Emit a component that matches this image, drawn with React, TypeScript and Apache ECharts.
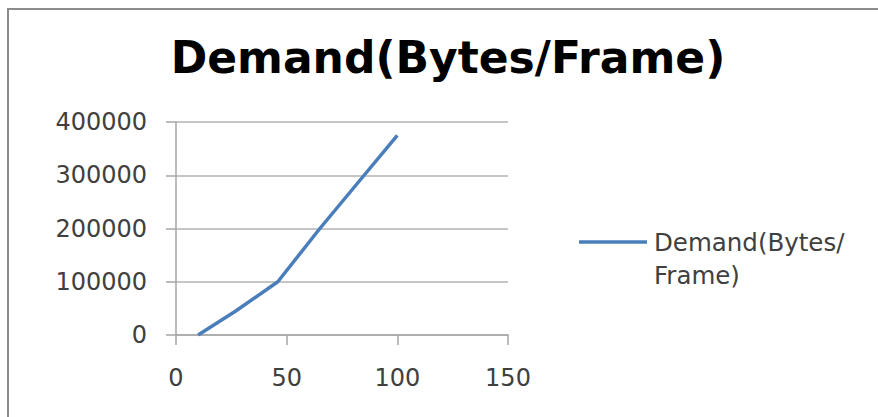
import React, { useEffect, useRef } from "react";
import * as echarts from "echarts";

const chartTitle = "Demand(Bytes/Frame)";
const seriesName = "Demand(Bytes/Frame)";
const legendLines = ["Demand(Bytes/", "Frame)"];
const xValues = [10, 27, 46, 65, 85, 100];
const yValues = [0, 45000, 100000, 200000, 300000, 375000];
const xTicks = { min: 0, max: 150, interval: 50 };
const yTicks = { min: 0, max: 400000, interval: 100000 };

export default function App() {
  const ref = useRef<HTMLDivElement>(null);
  useEffect(() => {
    if (!ref.current) return;
    const chart = echarts.init(ref.current, undefined, { renderer: "svg" });
    const font = "DejaVu Sans";
    chart.setOption({
      animation: false,
      backgroundColor: "#ffffff",
      grid: { left: 176, right: 370, top: 122, bottom: 82, containLabel: false },
      xAxis: {
        type: "value",
        min: xTicks.min,
        max: xTicks.max,
        interval: xTicks.interval,
        axisLine: { show: true, onZero: false, lineStyle: { color: "#a6a6a6", width: 1.5 } },
        axisTick: { show: true, length: 10, inside: false, lineStyle: { color: "#a6a6a6", width: 1.5 } },
        splitLine: { show: false },
        axisLabel: { margin: 31, color: "#404040", fontFamily: font, fontSize: 24, formatter: (v: number) => String(v) },
      },
      yAxis: {
        type: "value",
        min: yTicks.min,
        max: yTicks.max,
        interval: yTicks.interval,
        axisLine: { show: true, lineStyle: { color: "#a6a6a6", width: 1.5 } },
        axisTick: { show: true, length: 10, inside: false, lineStyle: { color: "#a6a6a6", width: 1.5 } },
        splitLine: { show: true, lineStyle: { color: "#b3b3b3", width: 1.5 } },
        axisLabel: { margin: 29, color: "#404040", fontFamily: font, fontSize: 24, formatter: (v: number) => String(v) },
      },
      series: [
        {
          name: seriesName,
          type: "line",
          data: xValues.map((x, i) => [x, yValues[i]]),
          showSymbol: false,
          smooth: false,
          lineStyle: { color: "#4a7ebb", width: 3.5 },
          itemStyle: { color: "#4a7ebb" },
        },
      ],
      graphic: [
        {
          type: "rect",
          shape: { x: 8, y: 9, width: 900, height: 500 },
          style: { fill: "none", stroke: "#8c8c8c", lineWidth: 2 },
          silent: true,
        },
        {
          type: "text",
          x: 448,
          y: 57,
          style: {
            text: chartTitle,
            fontFamily: font,
            fontWeight: "bold",
            fontSize: 44,
            fill: "#000000",
            textAlign: "center",
            textVerticalAlign: "middle",
          },
        },
        {
          type: "line",
          shape: { x1: 579, y1: 242, x2: 647, y2: 242 },
          style: { stroke: "#4a7ebb", lineWidth: 3.5 },
        },
        {
          type: "text",
          x: 654,
          y: 242,
          style: {
            text: legendLines[0],
            fontFamily: font,
            fontSize: 24.5,
            fill: "#404040",
            textAlign: "left",
            textVerticalAlign: "middle",
          },
        },
        {
          type: "text",
          x: 654,
          y: 275,
          style: {
            text: legendLines[1],
            fontFamily: font,
            fontSize: 24.5,
            fill: "#404040",
            textAlign: "left",
            textVerticalAlign: "middle",
          },
        },
      ],
    });
    return () => chart.dispose();
  }, []);
  return (
    <div
      ref={ref}
      style={{ position: "fixed", left: 0, top: 0, width: 878, height: 417 }}
    />
  );
}
